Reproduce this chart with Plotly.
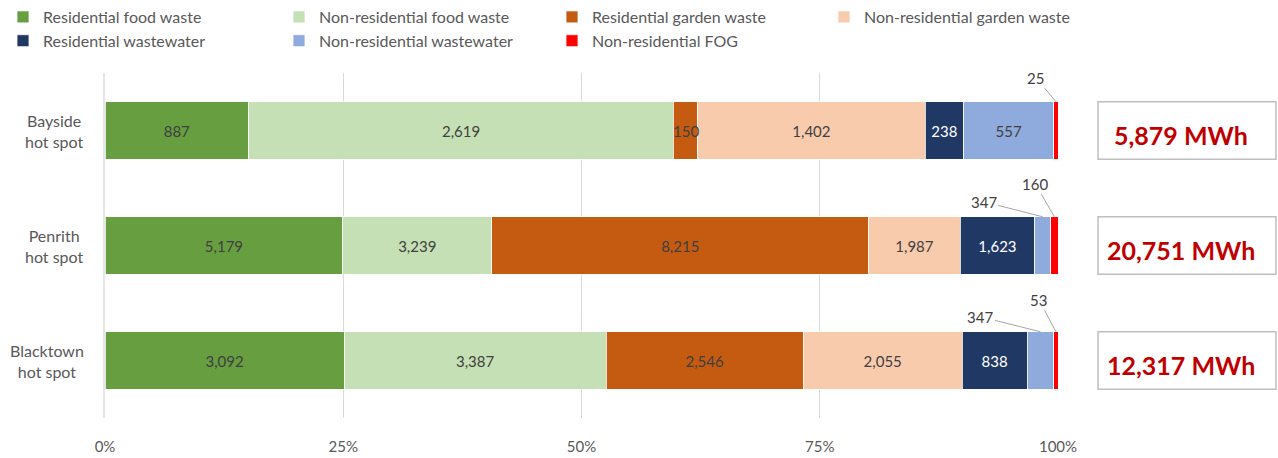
import plotly.graph_objects as go

categories = ["Bayside<br>hot spot", "Penrith<br>hot spot", "Blacktown<br>hot spot"]
series_names = ["Residential food waste", "Non-residential food waste", "Residential garden waste",
                "Non-residential garden waste", "Residential wastewater", "Non-residential wastewater",
                "Non-residential FOG"]
res_food = [887, 5179, 3092]
nonres_food = [2619, 3239, 3387]
res_garden = [150, 8215, 2546]
nonres_garden = [1402, 1987, 2055]
res_ww = [238, 1623, 838]
nonres_ww = [557, 347, 347]
nonres_fog = [25, 160, 53]
totals = [5879, 20751, 12317]
tick_vals = [0, 25, 50, 75, 100]
tick_text = ["0%", "25%", "50%", "75%", "100%"]

colors = ["#669E40", "#C5E0B4", "#C55A11", "#F8CBAD", "#203864", "#8FAADC", "#FF0000"]
text_colors = ["#404040", "#404040", "#404040", "#404040", "#FFFFFF", "#404040", "#404040"]
series = [res_food, nonres_food, res_garden, nonres_garden, res_ww, nonres_ww, nonres_fog]
# legend column for each series (4 columns, 2 rows)
legend_ids = ["legend", "legend2", "legend3", "legend4", "legend", "legend2", "legend3"]

FONT = "Lato"
W, H = 1278, 458

# which labels are drawn outside via callouts (series index, category index)
callouts = {(2, 0): (0, 0), (5, 1): (-59, -15), (6, 0): (-20, -24), (6, 1): (-19, -33),
            (5, 2): (-60, -15), (6, 2): (-17, -32)}

fig = go.Figure()
for si, (name, vals) in enumerate(zip(series_names, series)):
    texts = []
    for ci, v in enumerate(vals):
        texts.append("" if (si, ci) in callouts else f"{v:,}")
    fig.add_trace(go.Bar(
        y=categories, x=vals, name=name, orientation="h",
        marker=dict(color=colors[si], line=dict(color="white", width=0.8)),
        text=texts, textposition="inside", insidetextanchor="middle",
        textfont=dict(color=text_colors[si], size=15, family=FONT),
        hoverinfo="x+name", legend=legend_ids[si],
    ))

annotations = []
for (si, ci), (ax, ay) in callouts.items():
    tot = sum(s[ci] for s in series)
    before = sum(series[k][ci] for k in range(si))
    v = series[si][ci]
    if ax == 0 and ay == 0:
        xc = (before + v / 2) / tot * 100
        annotations.append(dict(x=xc, y=ci, xref="x", yref="y", text=f"{v:,}", showarrow=False,
                                xanchor="center",
                                font=dict(size=15, color="#404040", family=FONT)))
    else:
        xend = (before + v * 0.5) / tot * 100
        annotations.append(dict(x=xend, y=ci - 0.25, xref="x", yref="y", text=f"{v:,}",
                                showarrow=True, arrowhead=0, arrowwidth=1, arrowcolor="#A6A6A6",
                                ax=ax, ay=ay, standoff=0,
                                font=dict(size=15, color="#404040", family=FONT)))

# category labels (centred multi-line)
for ci, c in enumerate(categories):
    annotations.append(dict(xref="paper", yref="y", x=-0.02, y=ci, text=c, showarrow=False,
                            xanchor="right", yanchor="middle", align="center",
                            font=dict(size=16, color="#595959", family=FONT)))

shapes = []
for ci, t in enumerate(totals):
    shapes.append(dict(type="rect", xref="paper", yref="y", x0=1.042, x1=1.2287,
                       y0=ci - 0.25, y1=ci + 0.25, line=dict(color="#BFBFBF", width=1.5),
                       fillcolor="white"))
    annotations.append(dict(xref="paper", yref="y", x=1.129, y=ci, yshift=-4,
                            text=f"<b>{t:,} MWh</b>",
                            xanchor="center", yanchor="middle",
                            showarrow=False, font=dict(size=25, color="#C00000", family=FONT)))

leg_common = dict(orientation="v", xanchor="left", y=1.0, yanchor="top",
                  xref="container", yref="container",
                  font=dict(size=16, color="#595959", family=FONT),
                  traceorder="normal", bgcolor="rgba(0,0,0,0)", tracegroupgap=0)
leg_x_px = [3, 279, 552, 824]

fig.update_layout(
    barmode="stack", barnorm="percent", bargap=0.5,
    width=W, height=H,
    margin=dict(l=105, r=220, t=73, b=40, autoexpand=False),
    plot_bgcolor="white", paper_bgcolor="white",
    font=dict(family=FONT, color="#595959", size=15),
    legend=dict(x=leg_x_px[0] / W, **leg_common),
    legend2=dict(x=leg_x_px[1] / W, **leg_common),
    legend3=dict(x=leg_x_px[2] / W, **leg_common),
    legend4=dict(x=leg_x_px[3] / W, **leg_common),
    shapes=shapes, annotations=annotations,
    showlegend=True,
)
fig.update_xaxes(range=[0, 100], tickvals=tick_vals, ticktext=tick_text, showgrid=True,
                 gridcolor="#D9D9D9", gridwidth=1, zeroline=False, showline=False,
                 automargin=False,
                 ticklabelstandoff=18, tickfont=dict(size=15, color="#595959", family=FONT))
fig.update_yaxes(autorange="reversed", showgrid=False, showline=True, linecolor="#E6E6E6",
                 linewidth=2, automargin=False, showticklabels=False)

fig.write_html("out.html", config={"displayModeBar": False},
               post_script="document.body.style.margin='0';")
